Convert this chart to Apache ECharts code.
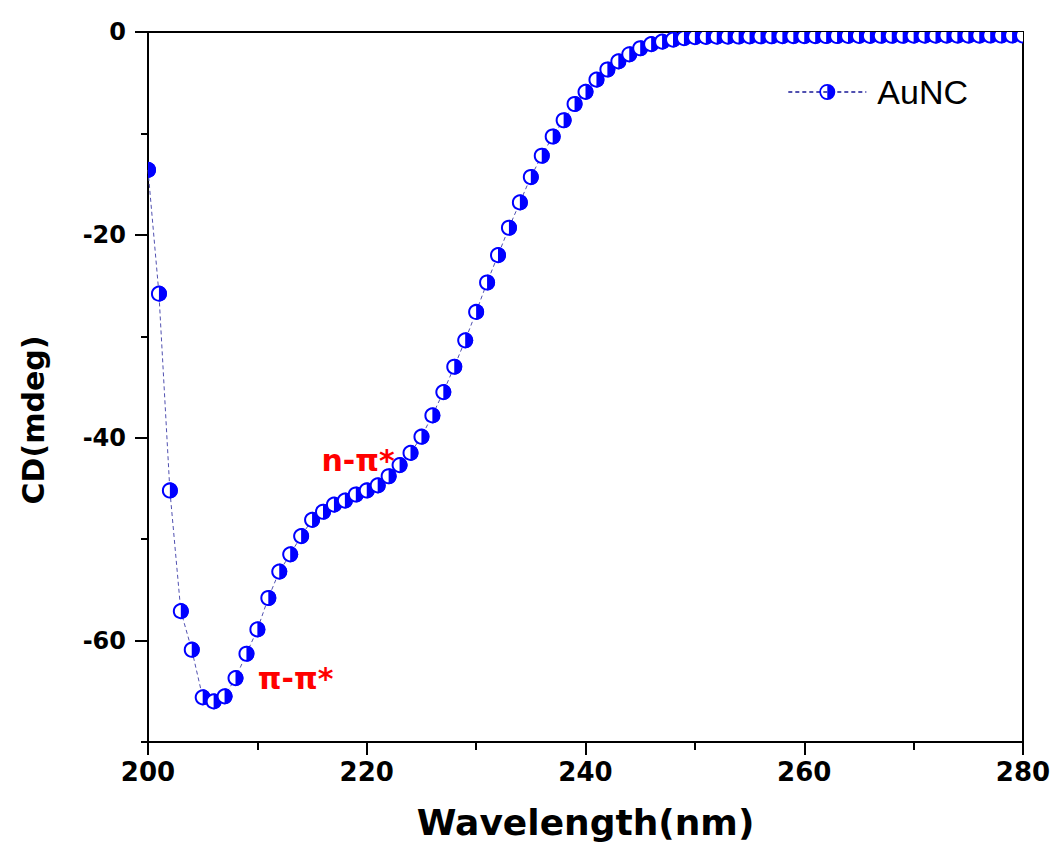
<!DOCTYPE html>
<html>
<head>
<meta charset="utf-8">
<script src="https://cdn.jsdelivr.net/npm/echarts@6/dist/echarts.min.js"></script>
<style>
html,body{margin:0;padding:0;background:#fff;}
#chart{width:1056px;height:851px;}
</style>
</head>
<body>
<div id="chart"></div>
<script>
// ---- data ----
const wavelengths = [];
for (let w = 200; w <= 280; w++) wavelengths.push(w);
const cdValues = [
  -13.6, -25.8, -45.2, -57.1, -60.9, -65.6, -66.0, -65.5, -63.7, -61.3,
  -58.9, -55.8, -53.2, -51.5, -49.7, -48.1, -47.3, -46.6, -46.2, -45.6,
  -45.2, -44.7, -43.8, -42.7, -41.5, -39.9, -37.8, -35.5, -33.0, -30.4,
  -27.6, -24.7, -22.0, -19.3, -16.8, -14.3, -12.2, -10.3, -8.7, -7.1,
  -5.9, -4.7, -3.7, -2.9, -2.2, -1.6, -1.2, -0.95, -0.75, -0.6,
  -0.5, -0.48, -0.46, -0.45, -0.44, -0.43, -0.42, -0.42, -0.41, -0.4,
  -0.4, -0.4, -0.39, -0.39, -0.38, -0.38, -0.38, -0.37, -0.37, -0.37,
  -0.36, -0.36, -0.36, -0.35, -0.35, -0.35, -0.35, -0.34, -0.34, -0.34,
  -0.34
];
const seriesName = 'AuNC';
const yMajorTicks = [-60, -40, -20, 0];
const yMinorTicks = [-70, -50, -30, -10];
const annotations = [
  { text: 'n-π*', at: [219.2, -42.2] },
  { text: 'π-π*', at: [213.5, -63.7] }
];

const points = wavelengths.map((w, i) => [w, cdValues[i]]);

// ring + right half filled disc (blue) for the legend icon
const halfSymbol = 'path://M16 0 A16 16 0 1 1 16 32 A16 16 0 1 1 16 0 Z M16 3.5 A12.5 12.5 0 1 0 16 28.5 A12.5 12.5 0 1 0 16 3.5 Z M16 3.5 A12.5 12.5 0 0 1 16 28.5 Z';
const BLUE = '#0000ff';
const boldFont = 'DejaVu Sans';
const R = 8;

function renderMarker(params, api) {
  const p = api.coord([api.value(0), api.value(1)]);
  return {
    type: 'group',
    children: [{
      type: 'circle',
      shape: { cx: p[0], cy: p[1], r: R - 1 },
      style: { fill: '#ffffff', stroke: BLUE, lineWidth: 2 }
    }, {
      type: 'sector',
      shape: { cx: p[0], cy: p[1], r0: 0, r: R, startAngle: -Math.PI / 2, endAngle: Math.PI / 2, clockwise: true },
      style: { fill: BLUE }
    }]
  };
}

const chart = echarts.init(document.getElementById('chart'), null, { renderer: 'svg' });
chart.setOption({
  backgroundColor: '#fff',
  animation: false,
  grid: {
    left: 148, right: 33, top: 32, bottom: 109,
    show: true, borderColor: '#000', borderWidth: 2, backgroundColor: 'transparent'
  },
  legend: {
    data: [seriesName],
    top: 70, right: 83,
    itemWidth: 78, itemHeight: 20,
    textStyle: { fontFamily: 'Liberation Sans', fontSize: 34, color: '#000', padding: [0, 0, 0, 6] }
  },
  xAxis: {
    type: 'value', min: 200, max: 280, interval: 20,
    name: 'Wavelength(nm)', nameLocation: 'middle', nameGap: 62,
    nameTextStyle: { fontFamily: boldFont, fontWeight: 'bold', fontSize: 36, color: '#000' },
    axisLine: { show: true, onZero: false, lineStyle: { color: '#000', width: 2 } },
    axisTick: { show: true, inside: false, length: 13, lineStyle: { color: '#000', width: 2 } },
    minorTick: { show: true, splitNumber: 2, length: 8, lineStyle: { color: '#000', width: 2 } },
    axisLabel: { margin: 17, fontFamily: boldFont, fontWeight: 'bold', fontSize: 26, color: '#000' },
    splitLine: { show: false }, minorSplitLine: { show: false }
  },
  yAxis: [{
    type: 'value', min: -70, max: 0, interval: 10,
    name: 'CD(mdeg)', nameLocation: 'middle', nameGap: 100,
    nameTextStyle: { fontFamily: boldFont, fontWeight: 'bold', fontSize: 30, color: '#000', padding: [0, 66, 0, 0] },
    axisLine: { show: true, onZero: false, lineStyle: { color: '#000', width: 2 } },
    axisTick: { show: true, length: 13, customValues: yMajorTicks, lineStyle: { color: '#000', width: 2 } },
    axisLabel: { margin: 22, customValues: yMajorTicks, fontFamily: boldFont, fontWeight: 'bold', fontSize: 24, color: '#000' },
    splitLine: { show: false }
  }, {
    type: 'value', min: -70, max: 0, interval: 10, position: 'left',
    axisLine: { show: false },
    axisTick: { show: true, length: 7, customValues: yMinorTicks, lineStyle: { color: '#000', width: 2 } },
    axisLabel: { show: false },
    splitLine: { show: false }
  }],
  series: [{
    name: seriesName,
    type: 'line',
    data: points,
    symbol: halfSymbol,
    symbolSize: 16,
    showSymbol: false,
    clip: true,
    itemStyle: { color: BLUE },
    lineStyle: { color: '#5050b0', width: 1, type: [4, 3] },
    z: 2,
    markPoint: {
      symbol: 'circle', symbolSize: 0, silent: true,
      label: {
        show: true, position: 'inside',
        fontFamily: boldFont, fontWeight: 'bold', fontSize: 30, color: '#ff0000',
        formatter: p => p.name
      },
      data: annotations.map(a => ({ name: a.text, coord: a.at }))
    }
  }, {
    type: 'custom',
    data: points,
    renderItem: renderMarker,
    clip: true,
    z: 3, silent: true
  }]
});
</script>
</body>
</html>
